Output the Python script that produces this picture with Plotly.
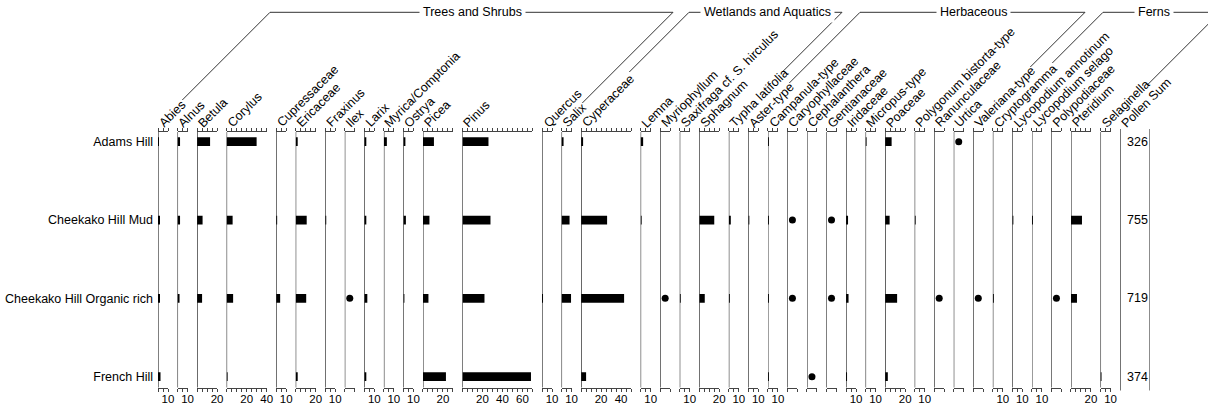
import plotly.graph_objects as go

# ---- data -----------------------------------------------------------------
taxa = [
    "Abies", "Alnus", "Betula", "Corylus", "Cupressaceae", "Ericaceae",
    "Fraxinus", "Ilex", "Larix", "Myrica/Comptonia", "Ostrya", "Picea",
    "Pinus", "Quercus", "Salix", "Cyperaceae", "Lemna", "Myriophyllum",
    "Saxifraga cf. S. hirculus", "Sphagnum", "Typha latifolia", "Aster-type",
    "Campanula-type", "Caryophyllaceae", "Cephalanthera", "Gentianaceae",
    "Iridaceae", "Micropus-type", "Poaceae", "Polygonum bistorta-type",
    "Ranunculaceae", "Urtica", "Valeriana-type", "Cryptogramma",
    "Lycopodium annotinum", "Lycopodium selago", "Polypodiaceae", "Pteridium",
    "Selaginella",
]

# upper limit (%) of each taxon's axis
axis_max = [10, 10, 20, 40, 10, 20, 10, 10, 10, 10, 10, 30, 70, 10, 10, 50,
            10, 10, 10, 20, 10, 10, 10, 10, 10, 10, 10, 10, 20, 10, 10, 10,
            10, 10, 10, 10, 10, 20, 10]

# sites, listed from bottom to top of the diagram
sites = ["French Hill", "Cheekako Hill Organic rich", "Cheekako Hill Mud",
         "Adams Hill"]

# percentages, same order as taxa
french_hill = [2.5, 0, 0, 0.7, 0, 1.5, 0, 0, 2, 0,
               0, 23, 68.5, 0, 0, 5, 0, 0, 0, 0,
               0, 0, 1, 0, 0, 0, 1, 0, 2.7, 0,
               0, 0, 0, 0, 0, 0, 0, 0, 1]
cheekako_organic = [2, 2, 5, 6.5, 4, 10.5, 0, 0, 3, 0,
                    1, 5.5, 22, 1, 9.5, 43, 0, 0, 0.5, 5.5,
                    0.5, 0, 0.5, 0, 0, 0, 2.5, 0, 12, 0,
                    0, 0, 0, 0.5, 0, 0, 0, 6, 0]
cheekako_mud = [1.5, 2.5, 5.5, 6, 1, 11, 1, 0, 1.5, 0,
                2.5, 6.5, 28, 0, 8, 26, 1, 0, 0, 15,
                1.5, 0.5, 1, 0, 0, 0, 1.5, 0, 4.5, 1,
                0, 0, 0, 0, 0.5, 0.5, 0, 11, 0]
adams_hill = [1, 2.5, 13, 30, 0, 2, 0, 0, 1.5, 3,
              2, 11, 26, 0, 1.5, 2, 2.5, 0, 0, 0,
              0, 0, 1, 0, 0, 0, 0, 1, 6.5, 0,
              0, 0, 0, 0, 0, 0, 0, 0, 0]
site_values = [french_hill, cheekako_organic, cheekako_mud, adams_hill]

# taxa present in trace amounts (shown as dots)
french_hill_trace = ["Cephalanthera"]
cheekako_organic_trace = ["Ilex", "Myriophyllum", "Caryophyllaceae",
                          "Gentianaceae", "Ranunculaceae", "Valeriana-type",
                          "Polypodiaceae"]
cheekako_mud_trace = ["Caryophyllaceae", "Gentianaceae"]
adams_hill_trace = ["Urtica"]
site_traces = [french_hill_trace, cheekako_organic_trace, cheekako_mud_trace,
               adams_hill_trace]

pollen_sum = [374, 719, 755, 326]

# ecological groups: (title, first taxon, last taxon)
groups = [
    ("Trees and Shrubs", "Abies", "Salix"),
    ("Wetlands and Aquatics", "Cyperaceae", "Typha latifolia"),
    ("Herbaceous", "Aster-type", "Valeriana-type"),
    ("Ferns", "Cryptogramma", "Selaginella"),
]

# ---- layout geometry (pixels) --------------------------------------------
W, H = 1208, 407
LEFT0 = 158.0
GAP = 9.54
SUM_WIDTH = 30
Y_TOP_PX, Y_BOT_PX = 132.0, 387.5
Y_RANGE = [-0.138, 3.124]
BAR_H = 0.111
DOT_X = 5
FONT = "Liberation Sans, Arial, sans-serif"
TEXT_SIZE = 12.5
TICK_SIZE = 11.5
INK = "#000000"
AXIS_INK = "#444444"


def px_x(p):
    return p / W


def px_y(p):
    return 1 - p / H


lefts = []
pos = LEFT0
for m in axis_max:
    lefts.append(pos)
    pos += m + GAP
sum_left = pos

y_domain = [px_y(Y_BOT_PX), px_y(Y_TOP_PX)]
text_font = dict(family=FONT, size=TEXT_SIZE, color=INK)

fig = go.Figure()
shapes = []
annotations = []

for i, (name, m) in enumerate(zip(taxa, axis_max)):
    ax = "x" if i == 0 else f"x{i + 1}"
    key = "xaxis" if i == 0 else f"xaxis{i + 1}"
    vals = [sv[i] for sv in site_values]
    has_bars = any(v > 0 for v in vals)
    step = 20 if m >= 20 else 10
    tickvals = list(range(0, m + 1, 5)) if has_bars else [0, m]
    ticktext = [str(t) if (has_bars and t > 0 and t % step == 0) else ""
                for t in tickvals]

    fig.add_trace(go.Bar(
        x=vals, y=list(range(len(sites))), orientation="h", width=BAR_H,
        marker=dict(color=INK, line=dict(width=0)),
        xaxis=ax, yaxis="y", hoverinfo="skip",
    ))

    dots_y = [j for j, tr in enumerate(site_traces) if name in tr]
    if dots_y:
        fig.add_trace(go.Scatter(
            x=[DOT_X] * len(dots_y), y=dots_y, mode="markers",
            marker=dict(color=INK, size=7), xaxis=ax, yaxis="y",
            hoverinfo="skip",
        ))

    fig.layout[key] = dict(
        domain=[px_x(lefts[i]), px_x(lefts[i] + m)], range=[0, m],
        anchor="y", showgrid=False, zeroline=False, automargin=False,
        showline=True, linecolor=AXIS_INK, linewidth=1, mirror="ticks",
        ticks="outside", ticklen=3, tickwidth=1, tickcolor=AXIS_INK,
        tickvals=tickvals, ticktext=ticktext, ticklabelstandoff=-2,
        tickfont=dict(family=FONT, size=TICK_SIZE, color=INK),
        fixedrange=True,
    )

    # left edge of each panel
    shapes.append(dict(type="line", xref=ax, yref="paper", x0=0, x1=0,
                       y0=y_domain[0], y1=y_domain[1],
                       line=dict(color=INK, width=1)))

    # rotated taxon name
    annotations.append(dict(
        text=name, xref="paper", yref="paper",
        x=px_x(lefts[i] - 3), y=px_y(131.5),
        xanchor="left", yanchor="bottom", textangle=-45, showarrow=False,
        borderpad=0, font=text_font,
    ))

# pollen sum column
n = len(taxa) + 1
sum_ax = f"x{n}"
fig.layout[f"xaxis{n}"] = dict(
    domain=[px_x(sum_left), px_x(sum_left + SUM_WIDTH)], range=[0, SUM_WIDTH],
    anchor="y", visible=False, fixedrange=True, automargin=False,
)
fig.add_trace(go.Scatter(x=[], y=[], xaxis=sum_ax, yaxis="y"))
for xv in (0, SUM_WIDTH):
    shapes.append(dict(type="line", xref=sum_ax, yref="paper", x0=xv, x1=xv,
                       y0=px_y(Y_BOT_PX + 3), y1=px_y(Y_TOP_PX - 3),
                       line=dict(color=INK, width=1)))
for j, s in enumerate(pollen_sum):
    annotations.append(dict(
        text=str(s), xref=sum_ax, yref="y", x=5, y=j, xanchor="left",
        yanchor="middle", showarrow=False, font=text_font,
    ))
annotations.append(dict(
    text="Pollen Sum", xref="paper", yref="paper",
    x=px_x(sum_left - 3), y=px_y(131.5), xanchor="left", yanchor="bottom",
    textangle=-45, showarrow=False, borderpad=0, font=text_font,
))

# group brackets: horizontal rule with titled break, 45-degree leaders
RULE_Y = 12.3
bracket_geom = {
    # title: (left top x, left leader bottom y, right top x,
    #         right leader bottom y, title centre x)
    "Trees and Shrubs": (270, 100, 673, 103, 472),
    "Wetlands and Aquatics": (689, 72, 842, 72, 767),
    "Herbaceous": (860, 83, 1085, 67, 973),
    "Ferns": (1103, 63, 1220, 85, 1154),
}
for title, _, _ in groups:
    xl, yl, xr, yr, xc = bracket_geom[title]
    line = dict(color="#333333", width=1)
    shapes.append(dict(type="line", xref="paper", yref="paper",
                       x0=px_x(xl), x1=px_x(xr), y0=px_y(RULE_Y),
                       y1=px_y(RULE_Y), line=line))
    shapes.append(dict(type="line", xref="paper", yref="paper",
                       x0=px_x(xl), y0=px_y(RULE_Y),
                       x1=px_x(xl - (yl - RULE_Y)), y1=px_y(yl), line=line))
    shapes.append(dict(type="line", xref="paper", yref="paper",
                       x0=px_x(xr), y0=px_y(RULE_Y),
                       x1=px_x(xr - (yr - RULE_Y)), y1=px_y(yr), line=line))
    annotations.append(dict(
        text=title, xref="paper", yref="paper", x=px_x(xc), y=px_y(RULE_Y),
        xanchor="center", yanchor="middle", showarrow=False,
        bgcolor="white", borderpad=3, font=text_font,
    ))

fig.update_layout(
    width=W, height=H, margin=dict(l=0, r=0, t=0, b=0, autoexpand=False),
    paper_bgcolor="white", plot_bgcolor="white", showlegend=False,
    barmode="overlay", shapes=shapes, annotations=annotations,
    yaxis=dict(
        domain=y_domain, range=Y_RANGE, anchor="x", automargin=False,
        tickvals=list(range(len(sites))), ticktext=sites, ticks="",
        showgrid=False, zeroline=False, showline=False,
        ticklabelstandoff=4, fixedrange=True, tickfont=text_font,
    ),
)

fig.write_html("out.html")
